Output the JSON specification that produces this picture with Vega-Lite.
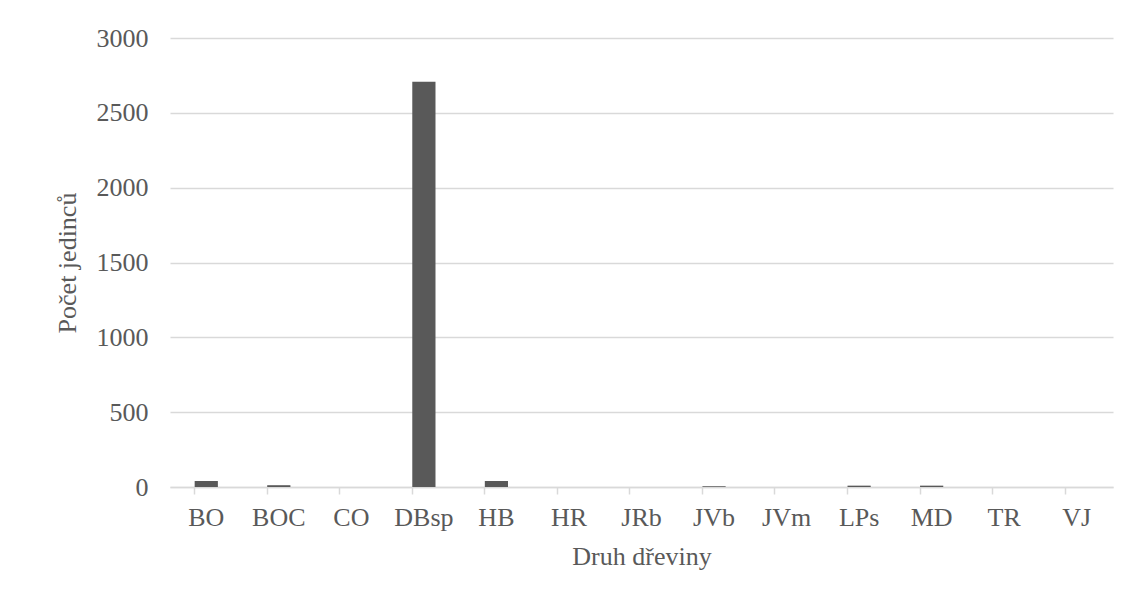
{
  "$schema": "https://vega.github.io/schema/vega-lite/v6.json",
  "autosize": {"type": "none"},
  "width": 943,
  "height": 449,
  "padding": {"left": 170, "top": 38, "right": 33, "bottom": 119},
  "background": "white",
  "data": {
    "values": [
      {"druh": "BO", "pocet": 40},
      {"druh": "BOC", "pocet": 12},
      {"druh": "CO", "pocet": 0},
      {"druh": "DBsp", "pocet": 2708},
      {"druh": "HB", "pocet": 40},
      {"druh": "HR", "pocet": 0},
      {"druh": "JRb", "pocet": 0},
      {"druh": "JVb", "pocet": 5},
      {"druh": "JVm", "pocet": 0},
      {"druh": "LPs", "pocet": 9},
      {"druh": "MD", "pocet": 9},
      {"druh": "TR", "pocet": 0},
      {"druh": "VJ", "pocet": 0}
    ]
  },
  "mark": {"type": "bar", "color": "#595959"},
  "encoding": {
    "x": {
      "field": "druh",
      "type": "nominal",
      "sort": null,
      "scale": {"paddingInner": 0.68, "paddingOuter": 0.34},
      "axis": {
        "title": "Druh dřeviny",
        "labelAngle": 0,
        "bandPosition": 0,
        "domainColor": "#d9d9d9",
        "domainWidth": 1.5,
        "tickColor": "#d9d9d9",
        "tickWidth": 1.5,
        "tickSize": 7,
        "labelPadding": 10,
        "titlePadding": 13,
        "labelFont": "Liberation Serif",
        "titleFont": "Liberation Serif",
        "labelFontSize": 26,
        "titleFontSize": 26,
        "titleFontWeight": "normal",
        "labelColor": "#595959",
        "titleColor": "#595959"
      }
    },
    "y": {
      "field": "pocet",
      "type": "quantitative",
      "scale": {"domain": [0, 3000]},
      "axis": {
        "title": "Počet jedinců",
        "format": "d",
        "values": [0, 500, 1000, 1500, 2000, 2500, 3000],
        "domain": false,
        "ticks": false,
        "gridColor": "#d9d9d9",
        "gridWidth": 1.5,
        "labelPadding": 22,
        "titlePadding": 16,
        "labelFont": "Liberation Serif",
        "titleFont": "Liberation Serif",
        "labelFontSize": 26,
        "titleFontSize": 26,
        "titleFontWeight": "normal",
        "labelColor": "#595959",
        "titleColor": "#595959"
      }
    }
  },
  "config": {"view": {"stroke": null}}
}
